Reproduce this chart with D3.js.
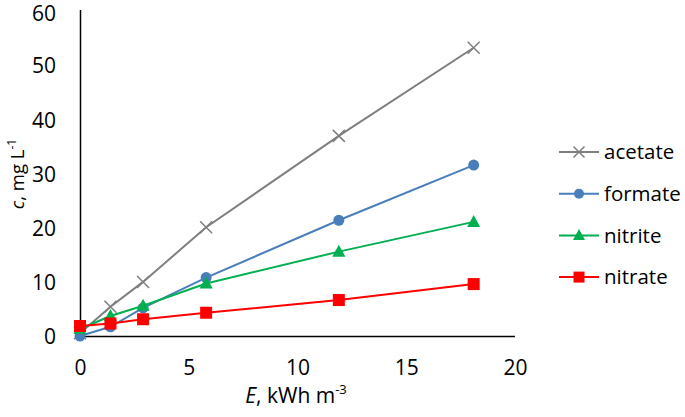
<!DOCTYPE html>
<html><head><meta charset="utf-8">
<script src="https://cdn.jsdelivr.net/npm/d3@7"></script>
<style>body{margin:0;background:#fff}svg{display:block}text{font-family:"Open Sans",Lato,sans-serif;fill:#000}</style>
</head><body>
<svg id="c" width="685" height="417"></svg>
<script>
const energy = [0, 1.4, 2.9, 5.8, 11.9, 18.1];
const acetate = [0.5, 5.4, 10.0, 20.1, 37.0, 53.3];
const formate = [0.0, 1.7, 5.2, 10.8, 21.4, 31.6];
const nitrite = [1.3, 3.7, 5.6, 9.7, 15.6, 21.1];
const nitrate = [1.85, 2.3, 3.1, 4.3, 6.65, 9.6];
const seriesNames = ["acetate", "formate", "nitrite", "nitrate"];
const xTicks = [0, 5, 10, 15, 20];
const yTicks = [0, 10, 20, 30, 40, 50, 60];

const colors = {acetate:"#7f7f7f", formate:"#4a7ebb", nitrite:"#00b050", nitrate:"#ff0000"};
const values = {acetate, formate, nitrite, nitrate};
const FF = "'Open Sans',Lato,sans-serif";

const svg = d3.select("#c");
const x = d3.scaleLinear().domain([0,20]).range([80,515]);
const y = d3.scaleLinear().domain([0,60]).range([336,11.5]);

// axes
const xAxis = svg.append("g").attr("transform","translate(0,336)")
  .call(d3.axisBottom(x).tickValues(xTicks).tickSize(0).tickPadding(19));
const yAxis = svg.append("g").attr("transform","translate(80,0)")
  .call(d3.axisLeft(y).tickValues(yTicks).tickSize(0).tickPadding(24));
[xAxis,yAxis].forEach(a=>{
  a.select(".domain").attr("stroke","#000").attr("stroke-width",1.5);
  a.selectAll("text").attr("font-size",21).attr("font-family",FF);
});
xAxis.selectAll("text").attr("dy","0.35em").attr("y",32);
yAxis.selectAll("text").attr("dy","0.35em");
yAxis.selectAll(".tick").filter(d=>d===60).select("text").attr("dy","0.42em");
yAxis.select(".domain").attr("d","M0.5,10V336");
xAxis.select(".domain").attr("d","M80,0.5H515");

// markers
function drawMarker(g, name, cx, cy, s){
  const c = colors[name];
  if(name==="acetate"){
    const h=s/2;
    g.append("path").attr("d",`M${cx-h},${cy-h}L${cx+h},${cy+h}M${cx-h},${cy+h}L${cx+h},${cy-h}`)
      .attr("stroke",c).attr("stroke-width",1.5).attr("fill","none");
  } else if(name==="formate"){
    g.append("circle").attr("cx",cx).attr("cy",cy).attr("r",s/2).attr("fill",c);
  } else if(name==="nitrite"){
    const h=s/2;
    g.append("path").attr("d",`M${cx},${cy-h-1}L${cx+h+0.5},${cy+h-1}L${cx-h-0.5},${cy+h-1}Z`).attr("fill",c);
  } else {
    g.append("rect").attr("x",cx-s/2).attr("y",cy-s/2).attr("width",s).attr("height",s).attr("fill",c);
  }
}
const sizes = {acetate:12, formate:11, nitrite:12, nitrate:12};
const line = d3.line().x(d=>x(d[0])).y(d=>y(d[1]));
seriesNames.forEach(name=>{
  const g = svg.append("g");
  const pts = energy.map((e,i)=>[e, values[name][i]]);
  g.append("path").datum(pts).attr("d",line).attr("fill","none")
    .attr("stroke",colors[name]).attr("stroke-width",2);
  pts.forEach(p=>drawMarker(g,name,x(p[0]),y(p[1]),sizes[name]));
});

// legend
seriesNames.forEach((name,i)=>{
  const yy = 152 + i*41.7;
  const g = svg.append("g");
  g.append("line").attr("x1",559).attr("x2",599).attr("y1",yy).attr("y2",yy)
    .attr("stroke",colors[name]).attr("stroke-width",2);
  drawMarker(g,name,579,yy,sizes[name]-1);
  g.append("text").attr("x",604).attr("y",yy).attr("dy","0.35em").attr("font-size",20.5).text(name);
});

// axis titles
const xt = svg.append("text").attr("x",296).attr("y",403).attr("text-anchor","middle").attr("font-size",21);
xt.append("tspan").attr("font-style","italic").text("E");
xt.append("tspan").text(", kWh m");
xt.append("tspan").attr("font-size",13).attr("dy",-9).text("-3");

const yt = svg.append("text").attr("transform","translate(24,174) rotate(-90)").attr("text-anchor","middle").attr("font-size",18.5);
yt.append("tspan").attr("font-style","italic").text("c");
yt.append("tspan").text(", mg L");
yt.append("tspan").attr("font-size",12).attr("dy",-8).text("-1");
</script>
</body></html>
